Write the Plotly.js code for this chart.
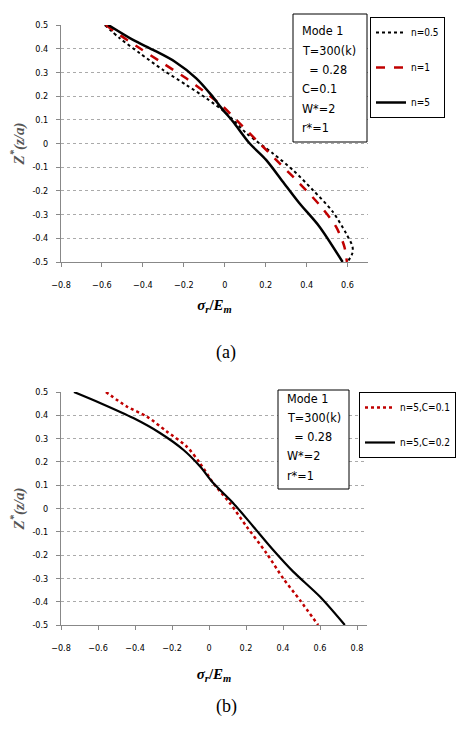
<!DOCTYPE html>
<html>
<head>
<meta charset="utf-8">
<script src="https://cdn.plot.ly/plotly-3.0.1.min.js"></script>
<style>html,body{margin:0;padding:0;background:#fff;}#chart{width:456px;height:730px;}</style>
</head>
<body>
<div id="chart"></div>
<script>
// ---- Data: chart (a) ----
const aN05_x = [-0.586, -0.513, -0.415, -0.301, -0.188, -0.09, 0.007, 0.105, 0.234, 0.332, 0.429, 0.527, 0.592, 0.624, 0.624, 0.6];
const aN05_y = [0.5, 0.444, 0.381, 0.31, 0.247, 0.191, 0.128, 0.044, -0.041, -0.111, -0.195, -0.287, -0.378, -0.434, -0.462, -0.5];
const aN1_x = [-0.581, -0.513, -0.415, -0.301, -0.188, -0.09, -0.009, 0.072, 0.17, 0.267, 0.364, 0.462, 0.543, 0.584, 0.597];
const aN1_y = [0.5, 0.458, 0.402, 0.338, 0.275, 0.212, 0.156, 0.086, 0.001, -0.083, -0.167, -0.258, -0.35, -0.434, -0.5];
const aN5_x = [-0.569, -0.448, -0.35, -0.245, -0.139, -0.066, -0.009, 0.04, 0.121, 0.202, 0.283, 0.364, 0.462, 0.576];
const aN5_y = [0.5, 0.437, 0.395, 0.346, 0.275, 0.205, 0.142, 0.093, 0.001, -0.069, -0.16, -0.251, -0.35, -0.5];
// ---- Data: chart (b) ----
const bC01_x = [-0.557, -0.445, -0.337, -0.229, -0.121, -0.049, 0.023, 0.113, 0.203, 0.311, 0.401, 0.491, 0.59];
const bC01_y = [0.5, 0.438, 0.395, 0.331, 0.266, 0.195, 0.109, 0.023, -0.077, -0.192, -0.3, -0.393, -0.5];
const bC02_x = [-0.73, -0.589, -0.409, -0.265, -0.139, -0.049, 0.023, 0.131, 0.239, 0.347, 0.455, 0.599, 0.734];
const bC02_y = [0.5, 0.453, 0.388, 0.324, 0.252, 0.181, 0.109, 0.023, -0.077, -0.178, -0.271, -0.378, -0.5];
// ---- Labels ----
const aLabels = ["n=0.5", "n=1", "n=5"];
const bLabels = ["n=5,C=0.1", "n=5,C=0.2"];
const aBoxLines = ["Mode 1", "T=300(k)", "  = 0.28", "C=0.1", "W*=2", "r*=1"];
const bBoxLines = ["Mode 1", "T=300(k)", "  = 0.28", "W*=2", "r*=1"];
const yTickVals = [-0.5, -0.4, -0.3, -0.2, -0.1, 0, 0.1, 0.2, 0.3, 0.4, 0.5];

const W = 456, H = 730;
const px = v => v / W;
const py = v => 1 - v / H;
const tickFont = {family: "DejaVu Sans Condensed, DejaVu Sans", size: 9, color: "#000"};
const RED = "#C00000";

const traces = [
  {x: aN05_x, y: aN05_y, xaxis: "x", yaxis: "y", name: aLabels[0], mode: "lines", line: {color: "#000", width: 2, dash: "dot", shape: "spline", smoothing: 0.8}, legend: "legend", legendgroup: "a1"},
  {x: aN1_x, y: aN1_y, xaxis: "x", yaxis: "y", name: aLabels[1], mode: "lines", line: {color: RED, width: 2.5, dash: "dash", shape: "spline", smoothing: 0.8}, legend: "legend", legendgroup: "a2"},
  {x: aN5_x, y: aN5_y, xaxis: "x", yaxis: "y", name: aLabels[2], mode: "lines", line: {color: "#000", width: 2.5, shape: "spline", smoothing: 0.8}, legend: "legend", legendgroup: "a3"},
  {x: bC01_x, y: bC01_y, xaxis: "x2", yaxis: "y2", name: bLabels[0], mode: "lines", line: {color: RED, width: 2.5, dash: "dot", shape: "spline", smoothing: 0.8}, legend: "legend2", legendgroup: "b1"},
  {x: bC02_x, y: bC02_y, xaxis: "x2", yaxis: "y2", name: bLabels[1], mode: "lines", line: {color: "#000", width: 2.2, shape: "spline", smoothing: 0.8}, legend: "legend2", legendgroup: "b2"}
];

function xax(domain, range, anchor, standoff) {
  return {domain: domain, range: range, anchor: anchor, tickmode: "linear", tick0: -0.8, dtick: 0.2,
    showgrid: false, zeroline: false, showline: true, linecolor: "#888", linewidth: 1,
    ticks: "outside", ticklen: 4, tickcolor: "#888", tickfont: tickFont, ticklabelstandoff: 10,
    title: {text: "<b><i>σ<sub>r</sub></i>/<i>E<sub>m</sub></i></b>", font: {family: "Liberation Serif, DejaVu Serif", size: 15, color: "#000"}, standoff: standoff}};
}
function yax(domain, anchor) {
  return {domain: domain, range: [-0.5, 0.5], anchor: anchor, tickvals: yTickVals,
    ticktext: yTickVals.map(v => v === 0 ? "0" : v.toFixed(1)),
    showgrid: true, gridcolor: "#aaa", griddash: "dot", gridwidth: 1,
    zeroline: false, showline: true, linecolor: "#888", linewidth: 1,
    ticks: "outside", ticklen: 4, tickcolor: "#888", tickfont: tickFont, ticklabelstandoff: 6,
    title: {text: "<b><i>Z<sup>*</sup>(z/a)</i></b>", font: {family: "Liberation Serif, DejaVu Serif", size: 15, color: "#555"}, standoff: 4}};
}

const annotations = [];
const shapes = [];
function addBox(lines, x0, y0, x1, y1, firstY, step) {
  shapes.push({type: "rect", xref: "paper", yref: "paper", x0: px(x0), x1: px(x1), y0: py(y1), y1: py(y0),
    line: {color: "#000", width: 1}, fillcolor: "#fff", layer: "above"});
  lines.forEach((t, i) => {
    annotations.push({xref: "paper", yref: "paper", x: px(x0 + 7), y: py(firstY + i * step), xanchor: "left", yanchor: "middle",
      text: t.replace(/ /g, "&nbsp;"), showarrow: false, font: {family: "DejaVu Sans Condensed, DejaVu Sans", size: 12.5, color: "#000"}});
  });
}
addBox(aBoxLines, 293, 14, 367, 142, 31, 19.3);
addBox(bBoxLines, 278, 390, 349, 489, 398, 19.3);

annotations.push({xref: "paper", yref: "paper", x: px(226), y: py(352), text: "(a)", showarrow: false, font: {family: "Liberation Serif, DejaVu Serif", size: 18, color: "#000"}});
annotations.push({xref: "paper", yref: "paper", x: px(226), y: py(719), text: "(b)", showarrow: false, font: {family: "Liberation Serif, DejaVu Serif", size: 18, color: "#000"}});

const legendFont = {family: "DejaVu Sans Condensed, DejaVu Sans", size: 10, color: "#000"};
const layout = {
  width: W, height: H, margin: {l: 0, r: 0, t: 0, b: 0},
  paper_bgcolor: "#fff", plot_bgcolor: "#fff",
  xaxis: xax([px(61), px(368)], [-0.8, 0.7], "y", 10),
  yaxis: yax([py(262), py(25)], "x"),
  xaxis2: xax([px(61), px(367)], [-0.8, 0.854], "y2", 16),
  yaxis2: yax([py(625), py(392)], "x2"),
  legend: {x: px(370), y: py(17), xanchor: "left", yanchor: "top", bordercolor: "#000", borderwidth: 1, bgcolor: "#fff",
    font: legendFont, tracegroupgap: 16, itemwidth: 30},
  legend2: {x: px(359), y: py(392), xanchor: "left", yanchor: "top", bordercolor: "#000", borderwidth: 1, bgcolor: "#fff",
    font: legendFont, tracegroupgap: 16, itemwidth: 30},
  annotations: annotations, shapes: shapes, showlegend: true
};
Plotly.newPlot("chart", traces, layout, {staticPlot: true, displayModeBar: false});
</script>
</body>
</html>
